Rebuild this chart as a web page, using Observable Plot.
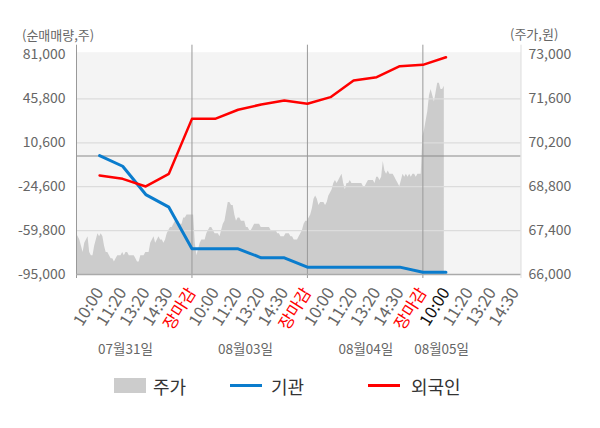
<!DOCTYPE html>
<html>
<head>
<meta charset="utf-8">
<script src="https://cdn.jsdelivr.net/npm/d3@7"></script>
<script src="https://cdn.jsdelivr.net/npm/@observablehq/plot@0.6"></script>
<style>
  body { margin: 0; background: #fff; font-family: "Noto Sans CJK KR", "Noto Sans", sans-serif; }
  #wrap { width: 600px; height: 428px; position: relative; overflow: hidden; }
  #head { position: relative; height: 44px; }
  #head span { position: absolute; font-size: 13px; line-height: 16px; color: #666; white-space: nowrap; }
  #chart svg { display: block; }
  #legend { position: relative; height: 40px; }
  #legend .sw { position: absolute; }
  #legend .lb { position: absolute; font-size: 18px; line-height: 20px; color: #333; white-space: nowrap; }
</style>
</head>
<body>
<div id="wrap">
  <div id="head">
    <span style="left:22px; top:27px;">(순매매량,주)</span>
    <span style="left:510px; top:26px;">(주가,원)</span>
  </div>
  <div id="chart"></div>
  <div id="legend"></div>
</div>
<script>
// ---- data ----
const timeLabels = ["10:00","11:20","13:20","14:30","장마감",
                    "10:00","11:20","13:20","14:30","장마감",
                    "10:00","11:20","13:20","14:30","장마감",
                    "10:00","11:20","13:20","14:30"];
const dateLabels = ["07월31일","08월03일","08월04일","08월05일"];
const datePositions = [2.12, 7.32, 12.53, 15.81];

const leftTicks = [-95000, -59800, -24600, 10600, 45800, 81000];
const rightTicks = [66000, 67400, 68800, 70200, 71600, 73000];

// 기관 / 외국인 cumulative net buying at time slots 1..16
const institution = [400,-8200,-30900,-41000,-74400,-74400,-74400,-81600,-81600,-89100,-89100,-89100,-89100,-89100,-93200,-93200];
const foreign = [-15600,-18300,-24400,-14300,29800,29800,37100,41300,44500,41900,47200,60600,63200,72000,73100,79200];

// share price (원), evenly sampled through each session
const priceDay1 = [67300,67200,67100,66900,66700,67000,67100,67200,66700,66600,
  66600,66900,67100,67300,67200,67300,67200,66900,66700,66700,
  66600,66500,66500,66400,66500,66600,66600,66600,66700,66600,
  66700,66700,66600,66600,66600,66600,66500,66400,66400,66600,
  66600,66600,66700,66700,66700,67000,67100,67200,67000,67100,
  67200,67100,67100,67000,67100,67300,67400,67500,67500,67600,
  67700,67700,67700,67600,67600,67800,67800,67900,67900,67900];
const priceDay2 = [67900,67900,67000,66600,66800,67000,67100,67100,67100,67300,
  67400,67500,67500,67400,67300,67300,67300,67200,67400,67600,
  67700,68000,68300,68300,68200,68200,67900,67700,67800,67800,
  67700,67700,67700,67500,67500,67400,67400,67500,67600,67600,
  67600,67600,67500,67500,67500,67500,67500,67500,67400,67400,
  67400,67400,67300,67300,67200,67200,67200,67300,67300,67300,
  67200,67200,67100,67100,67100,67200,67300,67400,67600,67700];
const priceDay3 = [67700,67800,67900,68100,68400,68500,68400,68200,68300,68300,
  68300,68200,68300,68500,68600,68700,68900,69000,68900,69000,
  69100,69200,68900,68700,68900,68900,69000,68900,68900,68900,
  68900,68900,68900,68900,68800,68800,68900,69000,69000,69000,
  69000,68900,69100,69100,69000,69100,69600,69300,69200,69300,
  69200,69200,69200,69100,69000,68900,68800,69000,69200,69100,
  69200,69100,69200,69100,69200,69200,69100,69200,69200,69200];
const priceDay4 = [70400,70600,70900,71200,71700,71900,71700,71500,71800,72100,72100,71900,71900,72000];

// ---- derived tables ----
const SLOTS_PER_DAY = 5, SAMPLES_PER_DAY = 70;
const yMin = leftTicks[0], yMax = leftTicks[leftTicks.length - 1];
const pMin = rightTicks[0], pMax = rightTicks[rightTicks.length - 1];
const toLeft = p => yMin + (p - pMin) * (yMax - yMin) / (pMax - pMin);
const toPrice = v => pMin + (v - yMin) * (pMax - pMin) / (yMax - yMin);

const priceRows = [];
[priceDay1, priceDay2, priceDay3, priceDay4].forEach((arr, d) =>
  arr.forEach((p, i) => priceRows.push({slot: d * SLOTS_PER_DAY + i * SLOTS_PER_DAY / SAMPLES_PER_DAY, v: toLeft(p)})));

const flowRows = institution.map((v, i) => ({slot: i + 1, inst: v, frgn: foreign[i]}));

const allSlots = timeLabels.map((_, i) => i + 1);
const closeSlots = allSlots.filter(s => timeLabels[s - 1] === "장마감");
const currentSlot = [flowRows.length];
const normalSlots = allSlots.filter(s => timeLabels[s - 1] !== "장마감" && s !== currentSlot[0]);
const dayBreaks = [0, 5, 10, 15];
const xEnd = 19.25;
const yTop = 83250;

const fmt = v => Math.round(v).toLocaleString("en-US");
const xAxisOpts = {tickRotate: -58, tickSize: 0, tickPadding: 15, fontSize: 16.5, label: null,
  tickFormat: d => timeLabels[d - 1]};

const chart = Plot.plot({
  width: 600,
  height: 321,
  marginTop: 7.7,
  marginBottom: 91,
  marginLeft: 76,
  marginRight: 79.5,
  style: {fontFamily: '"Noto Sans CJK KR", "Noto Sans", sans-serif', fontSize: "14px", background: "transparent", overflow: "visible"},
  x: {domain: [0, xEnd], axis: null, label: null},
  y: {domain: [yMin, yTop], axis: null, label: null},
  marks: [
    Plot.frame({fill: "#f4f4f4"}),
    Plot.areaY(priceRows, {x: "slot", y1: yMin, y2: "v", fill: "#cccccc"}),
    Plot.ruleY(leftTicks.slice(1, -1), {stroke: "#dcdcdc", strokeWidth: 1.2}),
    Plot.ruleY([0], {stroke: "#8a8a8a", strokeWidth: 1.2}),
    Plot.ruleX(dayBreaks, {stroke: "#999", insetTop: -7, insetBottom: -4}),
    Plot.ruleX([xEnd], {stroke: "#ddd", insetTop: -7, insetBottom: -4}),
    Plot.ruleY([yMin], {stroke: "#aaa", strokeWidth: 1.5}),
    Plot.line(flowRows, {x: "slot", y: "inst", stroke: "#0a7ccd", strokeWidth: 3}),
    Plot.line(flowRows, {x: "slot", y: "frgn", stroke: "#ff0000", strokeWidth: 2.5}),
    Plot.axisY(leftTicks, {anchor: "left", tickSize: 0, tickPadding: 11, fontSize: 14, color: "#666", label: null, tickFormat: fmt}),
    Plot.axisY(leftTicks, {anchor: "right", tickSize: 0, tickPadding: 7.5, fontSize: 14, color: "#666", label: null, tickFormat: d => fmt(toPrice(d))}),
    Plot.axisX(normalSlots, {...xAxisOpts, color: "#666"}),
    Plot.axisX(closeSlots, {...xAxisOpts, color: "#ff0000"}),
    Plot.axisX(currentSlot, {...xAxisOpts, color: "#111"}),
    Plot.text(dateLabels, {x: (d, i) => datePositions[i], text: d => d, frameAnchor: "bottom", dy: 79, fill: "#666", fontSize: 13.5})
  ]
});
document.getElementById("chart").appendChild(chart);

// ---- legend ----
const legendItems = [
  {name: "주가", kind: "area", color: "#cccccc", sx: 114, tx: 153},
  {name: "기관", kind: "line", color: "#0a7ccd", sx: 230, tx: 271},
  {name: "외국인", kind: "line", color: "#ff0000", sx: 368, tx: 411}
];
const legend = d3.select("#legend");
legendItems.forEach(it => {
  if (it.kind === "area") {
    legend.append("div").attr("class", "sw")
      .style("left", it.sx + "px").style("top", "13px")
      .style("width", "32px").style("height", "15px").style("background", it.color);
  } else {
    legend.append("div").attr("class", "sw")
      .style("left", it.sx + "px").style("top", "19px")
      .style("width", "32px").style("height", "3px").style("background", it.color);
  }
  legend.append("div").attr("class", "lb")
    .style("left", it.tx + "px").style("top", "11px").text(it.name);
});
</script>
</body>
</html>
